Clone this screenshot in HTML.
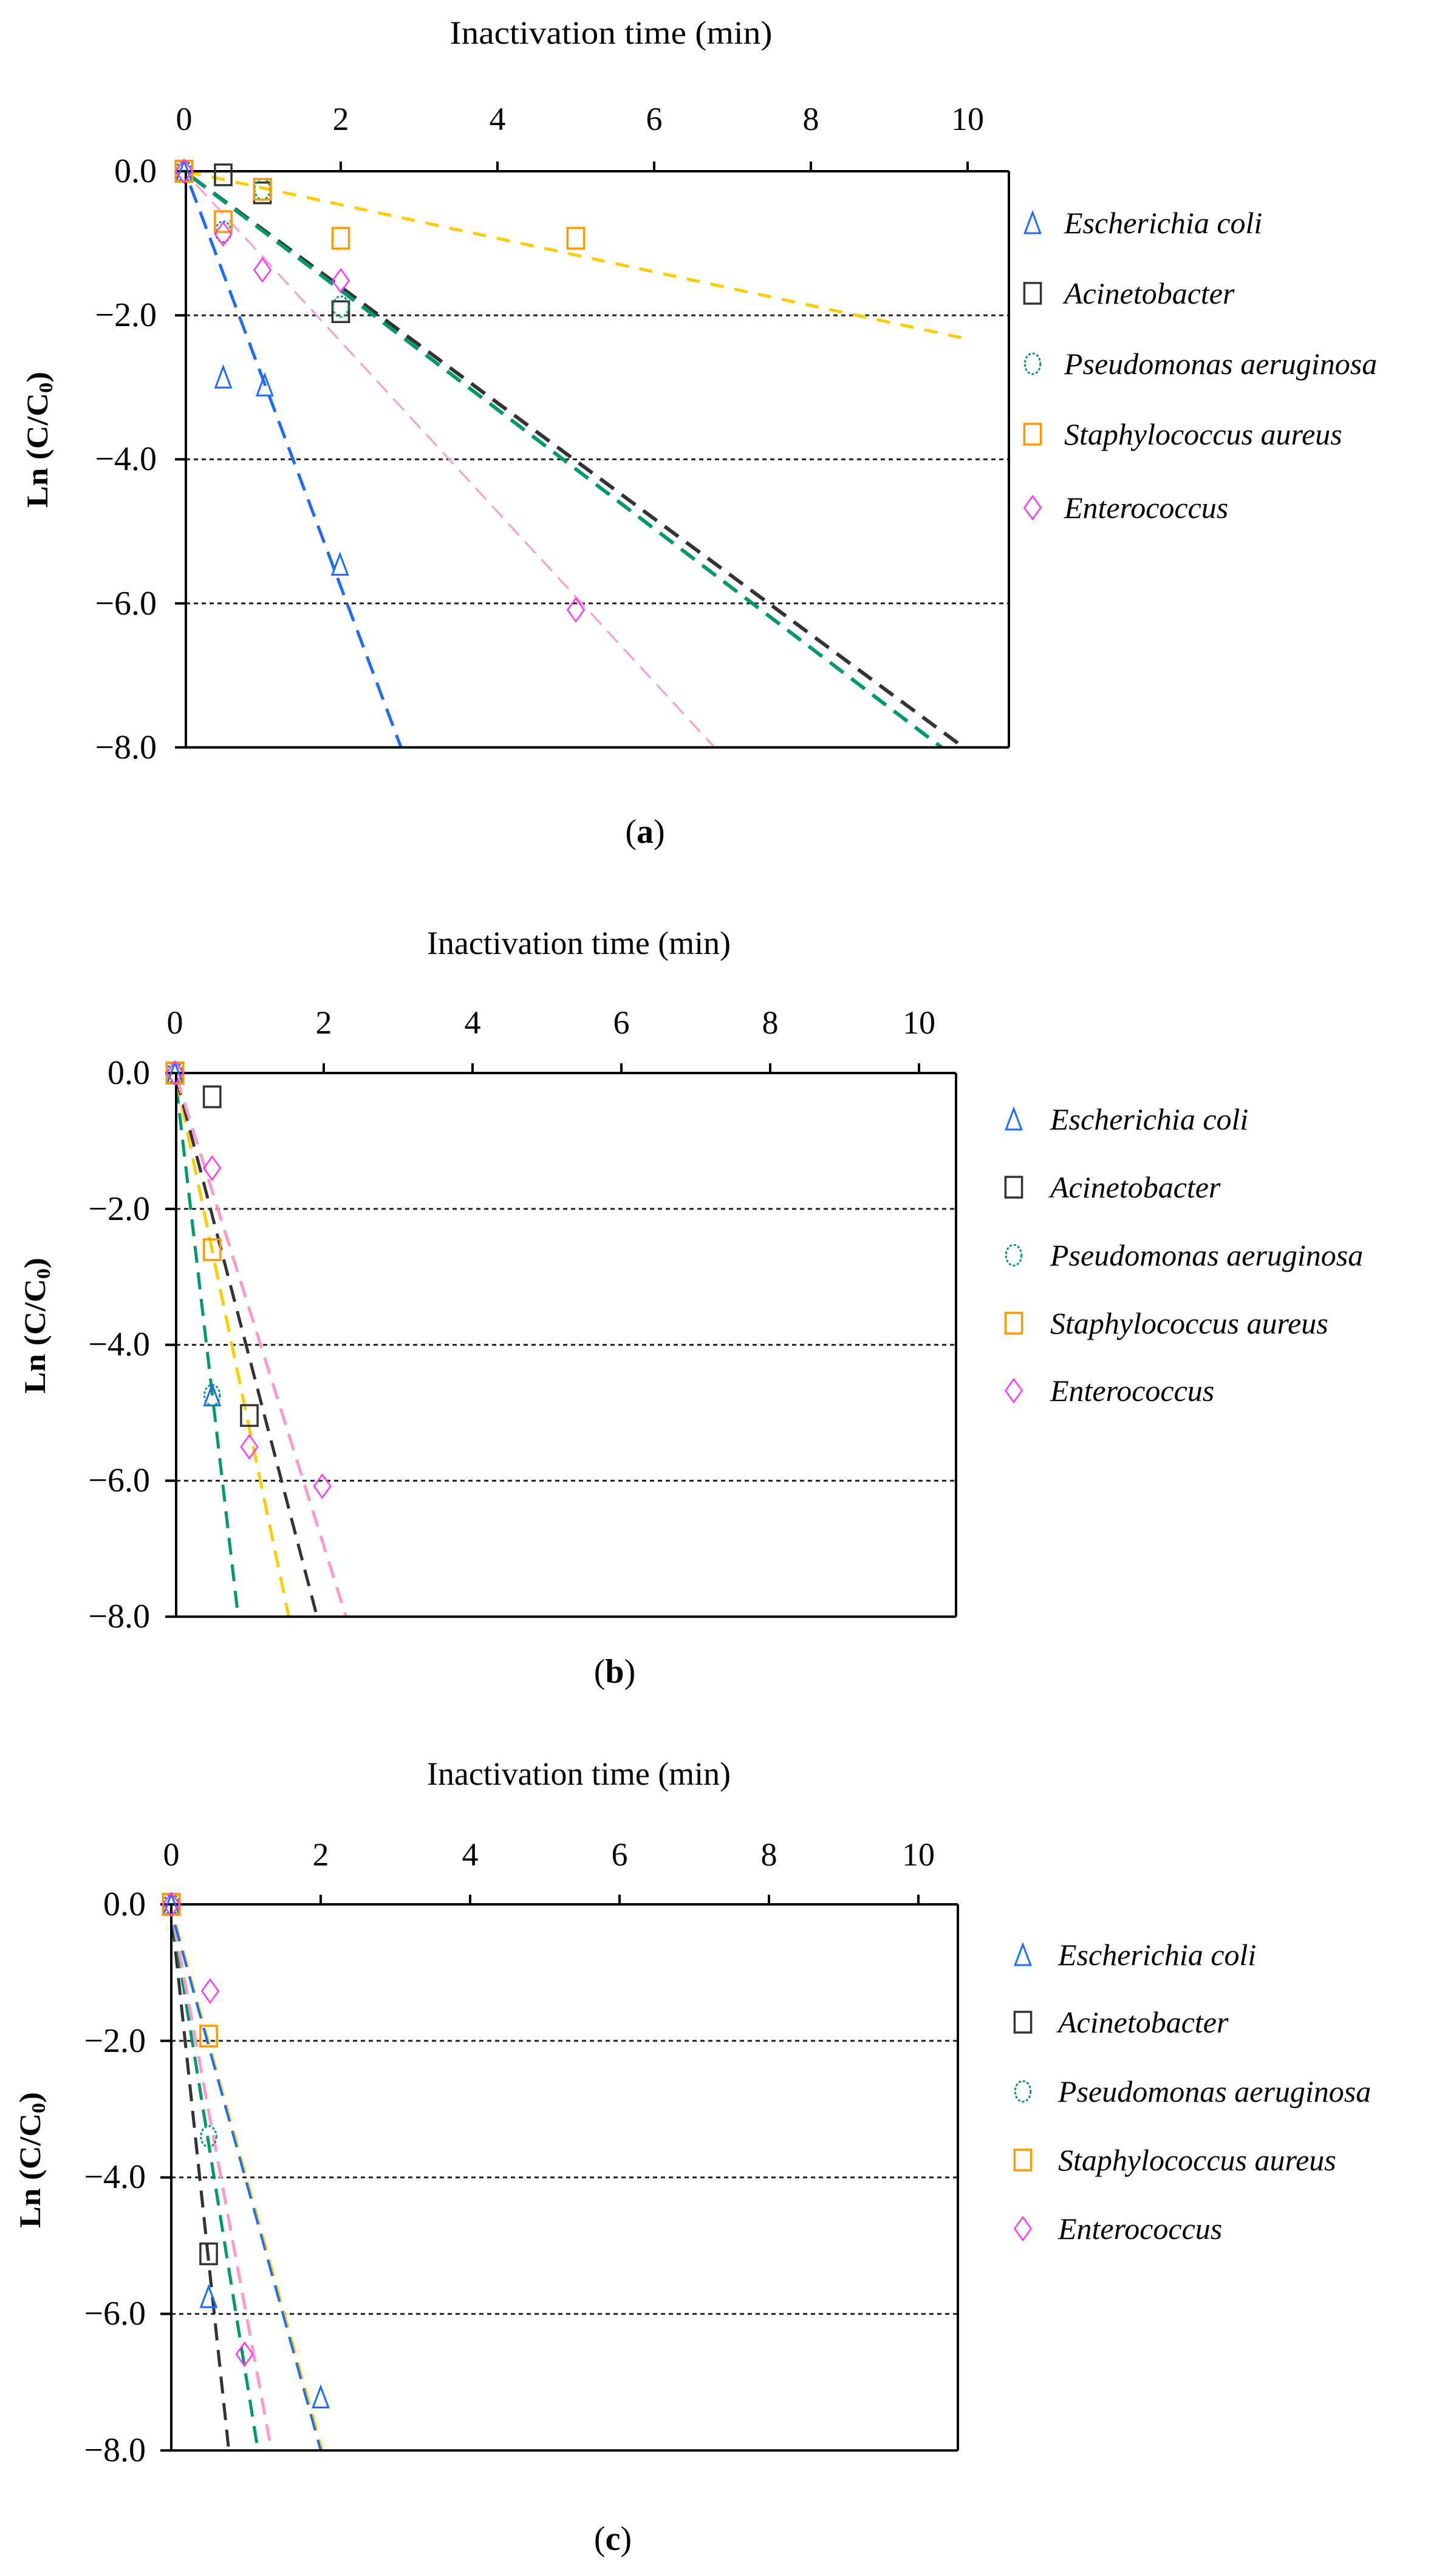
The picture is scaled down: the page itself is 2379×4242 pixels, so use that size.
<!DOCTYPE html>
<html><head><meta charset="utf-8"><style>
html,body{margin:0;padding:0;background:#fff;}
svg{display:block;}
text{font-family:"Liberation Serif",serif;fill:#000;}
.t{font-size:54px;text-anchor:middle;}
.yl{font-size:56px;text-anchor:end;}
.lg{font-size:50px;font-style:italic;}
.ti{font-size:54px;text-anchor:middle;}
.cap{font-size:56px;text-anchor:middle;}
</style></head><body>
<svg id="s" width="2379" height="4242" viewBox="0 0 2379 4242" xmlns="http://www.w3.org/2000/svg">
<rect width="2379" height="4242" fill="#fff"/>
<g id="plots"></g>
<!-- Panel a text -->
<text class="ti" x="1006" y="72" textLength="531" lengthAdjust="spacingAndGlyphs">Inactivation time (min)</text>
<text class="t" x="303" y="214">0</text><text class="t" x="561" y="214">2</text><text class="t" x="819" y="214">4</text><text class="t" x="1077" y="214">6</text><text class="t" x="1335" y="214">8</text><text class="t" x="1593" y="214">10</text>
<text class="yl" x="258" y="300">0.0</text><text class="yl" x="258" y="537">−2.0</text><text class="yl" x="258" y="774">−4.0</text><text class="yl" x="258" y="1012">−6.0</text><text class="yl" x="258" y="1249">−8.0</text>
<text x="0" y="0" font-size="50" font-weight="bold" text-anchor="middle" transform="translate(78,724) rotate(-90)" textLength="224" lengthAdjust="spacingAndGlyphs">Ln (C/C<tspan font-size="32" dy="8">0</tspan><tspan dy="-8">)</tspan></text>
<text class="lg" x="1752" y="384">Escherichia coli</text>
<text class="lg" x="1752" y="500">Acinetobacter</text>
<text class="lg" x="1752" y="616">Pseudomonas aeruginosa</text>
<text class="lg" x="1752" y="732">Staphylococcus aureus</text>
<text class="lg" x="1752" y="853">Enterococcus</text>
<text class="cap" x="1062" y="1388">(<tspan font-weight="bold">a</tspan>)</text>
<!-- Panel b text -->
<text class="ti" x="953" y="1571" textLength="500" lengthAdjust="spacingAndGlyphs">Inactivation time (min)</text>
<text class="t" x="288" y="1702">0</text><text class="t" x="533" y="1702">2</text><text class="t" x="778" y="1702">4</text><text class="t" x="1023" y="1702">6</text><text class="t" x="1268" y="1702">8</text><text class="t" x="1513" y="1702">10</text>
<text class="yl" x="247" y="1785">0.0</text><text class="yl" x="247" y="2009">−2.0</text><text class="yl" x="247" y="2232">−4.0</text><text class="yl" x="247" y="2456">−6.0</text><text class="yl" x="247" y="2680">−8.0</text>
<text x="0" y="0" font-size="50" font-weight="bold" text-anchor="middle" transform="translate(74,2183) rotate(-90)" textLength="224" lengthAdjust="spacingAndGlyphs">Ln (C/C<tspan font-size="32" dy="8">0</tspan><tspan dy="-8">)</tspan></text>
<text class="lg" x="1729" y="1860">Escherichia coli</text>
<text class="lg" x="1729" y="1972">Acinetobacter</text>
<text class="lg" x="1729" y="2084">Pseudomonas aeruginosa</text>
<text class="lg" x="1729" y="2196">Staphylococcus aureus</text>
<text class="lg" x="1729" y="2307">Enterococcus</text>
<text class="cap" x="1012" y="2771">(<tspan font-weight="bold">b</tspan>)</text>
<!-- Panel c text -->
<text class="ti" x="953" y="2939" textLength="500" lengthAdjust="spacingAndGlyphs">Inactivation time (min)</text>
<text class="t" x="282" y="3072">0</text><text class="t" x="528" y="3072">2</text><text class="t" x="774" y="3072">4</text><text class="t" x="1020" y="3072">6</text><text class="t" x="1266" y="3072">8</text><text class="t" x="1512" y="3072">10</text>
<text class="yl" x="240" y="3154">0.0</text><text class="yl" x="240" y="3379">−2.0</text><text class="yl" x="240" y="3603">−4.0</text><text class="yl" x="240" y="3828">−6.0</text><text class="yl" x="240" y="4053">−8.0</text>
<text x="0" y="0" font-size="50" font-weight="bold" text-anchor="middle" transform="translate(66,3557) rotate(-90)" textLength="224" lengthAdjust="spacingAndGlyphs">Ln (C/C<tspan font-size="32" dy="8">0</tspan><tspan dy="-8">)</tspan></text>
<text class="lg" x="1742" y="3236">Escherichia coli</text>
<text class="lg" x="1742" y="3347">Acinetobacter</text>
<text class="lg" x="1742" y="3461">Pseudomonas aeruginosa</text>
<text class="lg" x="1742" y="3574">Staphylococcus aureus</text>
<text class="lg" x="1742" y="3687">Enterococcus</text>
<text class="cap" x="1009" y="4199">(<tspan font-weight="bold">c</tspan>)</text>
</svg>
<script>
(function(){
var NS="http://www.w3.org/2000/svg",g=document.getElementById("plots");
function el(n,a){var e=document.createElementNS(NS,n);for(var k in a)e.setAttribute(k,a[k]);g.appendChild(e);return e;}
var C={blue:"#1a6cff",black:"#333333",green:"#00996b",orange:"#ff9900",pink:"#ff99cc",mag:"#ff33ff",yel:"#ffcc00"};
function marker(t,x,y,s){
 s=s||17;
 if(t=="tri")el("polygon",{points:(x)+","+(y-s)+" "+(x-s*0.75)+","+(y+s)+" "+(x+s*0.75)+","+(y+s),fill:"none",stroke:C.blue,"stroke-width":3});
 if(t=="sqb")el("rect",{x:x-s*0.8,y:y-s,width:s*1.6,height:s*2,fill:"none",stroke:C.black,"stroke-width":3.5});
 if(t=="cir")el("ellipse",{cx:x,cy:y,rx:s*0.75,ry:s,fill:"none",stroke:C.green,"stroke-width":3,"stroke-dasharray":"4 3"});
 if(t=="sqo")el("rect",{x:x-s*0.8,y:y-s,width:s*1.6,height:s*2,fill:"none",stroke:C.orange,"stroke-width":3.5});
 if(t=="dia")el("polygon",{points:x+","+(y-s-2)+" "+(x+s*0.8)+","+y+" "+x+","+(y+s+2)+" "+(x-s*0.8)+","+y,fill:"none",stroke:C.mag,"stroke-width":2.5});
}
function panel(P){
 var X=function(v){return P.x0+v*P.kx},Y=function(v){return P.y0-v*P.ky};
 var bot=Y(-8);
 [-2,-4,-6].forEach(function(v){el("line",{x1:P.L,x2:P.R,y1:Y(v),y2:Y(v),stroke:"#222","stroke-width":3,"stroke-dasharray":"7 6"});});
 P.lines.forEach(function(l){el("line",{x1:X(l[0]),y1:Y(l[1]),x2:X(l[2]),y2:Y(l[3]),stroke:l[4],"stroke-width":l[5],"stroke-dasharray":l[6]});});
 el("line",{x1:P.L,x2:P.R,y1:P.y0,y2:P.y0,stroke:"#000","stroke-width":4});
 el("line",{x1:P.L-18,x2:P.R,y1:bot,y2:bot,stroke:"#000","stroke-width":4});
 el("line",{x1:P.L,x2:P.L,y1:P.y0,y2:bot,stroke:"#000","stroke-width":4});
 el("line",{x1:P.R,x2:P.R,y1:P.y0,y2:bot,stroke:"#000","stroke-width":4});
 for(var i=2;i<=10;i+=2)el("line",{x1:X(i),x2:X(i),y1:P.y0-16,y2:P.y0,stroke:"#000","stroke-width":4});
 [-2,-4,-6].forEach(function(v){el("line",{x1:P.L-18,x2:P.L,y1:Y(v),y2:Y(v),stroke:"#000","stroke-width":4});});
 el("line",{x1:P.L-18,x2:P.L,y1:P.y0,y2:P.y0,stroke:"#000","stroke-width":4});
 P.pts.forEach(function(p){marker(p[0],X(p[1]),Y(p[2]));});
 var ty=["tri","sqb","cir","sqo","dia"];
 P.leg.forEach(function(y,i){marker(ty[i],P.lx,y);});
}
var dB="30 16",dK="28 16";
panel({x0:303,kx:129,y0:282,ky:118.6,L:306,R:1661,lx:1700,leg:[367,483,599,715,836],
 lines:[[0.08,-0.2,2.77,-8,C.blue,5,dB],[0.1,-0.08,9.95,-8,C.black,6,dK],[0.1,-0.08,9.67,-8,C.green,6,dK],[0.15,-0.18,6.77,-8,C.pink,3,"26 14"],[0.05,-0.01,10,-2.33,C.yel,5,"22 18"]],
 pts:[["tri",0,0],["sqb",0,0],["cir",0,0],["sqo",0,0],["dia",0,0],
 ["tri",0.5,-2.86],["tri",1.03,-2.97],["tri",1.99,-5.46],
 ["sqb",0.5,-0.05],["sqb",1.0,-0.3],["sqb",2.0,-1.95],
 ["cir",1.0,-0.25],["cir",2.0,-1.88],["cir",0.5,-0.84],
 ["sqo",0.5,-0.7],["sqo",1.0,-0.25],["sqo",2.0,-0.93],["sqo",5.0,-0.93],
 ["dia",0.5,-0.87],["dia",1.0,-1.37],["dia",2.0,-1.52],["dia",5.0,-6.09]]});
panel({x0:288,kx:122.5,y0:1767,ky:111.9,L:290,R:1574,lx:1669,leg:[1843,1955,2067,2179,2290],
 lines:[[0.02,-0.2,0.85,-8,C.green,5,dK],[0.02,-0.1,1.53,-8,C.yel,5,dK],[0.02,-0.08,1.91,-8,C.black,5,dK],[0.02,-0.06,2.30,-8,C.pink,5,dK]],
 pts:[["tri",0,0],["sqb",0,0],["cir",0,0],["sqo",0,0],["dia",0,0],
 ["sqb",0.5,-0.35],["sqb",1.0,-5.04],["dia",0.5,-1.4],["dia",1.0,-5.5],["dia",1.98,-6.08],
 ["sqo",0.5,-2.6],["tri",0.5,-4.74],["cir",0.5,-4.74]]});
panel({x0:282,kx:123,y0:3136,ky:112.4,L:282,R:1577,lx:1684,leg:[3219,3330,3444,3557,3670],
 lines:[[0.02,-0.3,0.77,-8,C.black,5,dK],[0.03,-0.3,1.16,-8,C.green,5,dK],[0.04,-0.3,1.34,-8,C.pink,5,dK],[0.06,-0.3,2.02,-8,C.yel,5,dK],[0.05,-0.3,2.0,-8,C.blue,4,dK]],
 pts:[["tri",0,0],["sqb",0,0],["cir",0,0],["sqo",0,0],["dia",0,0],
 ["dia",0.52,-1.27],["dia",0.98,-6.59],["sqo",0.5,-1.93],["cir",0.5,-3.4],["sqb",0.5,-5.12],
 ["tri",0.5,-5.75],["tri",2.0,-7.22]]});
})();
</script>
</body></html>
